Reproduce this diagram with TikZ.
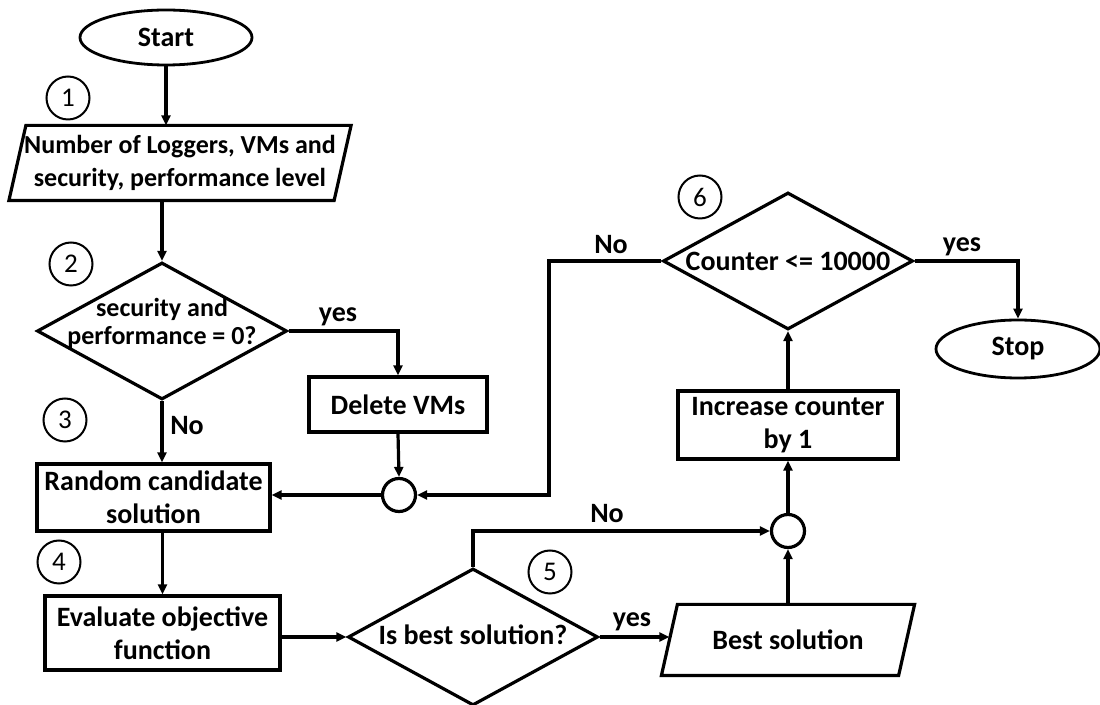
\documentclass[tikz,border=0pt]{standalone}
\usepackage{fontspec}
\setmainfont{Carlito}
\usetikzlibrary{shapes.geometric,arrows.meta,calc}
\begin{document}
\begin{tikzpicture}[x=0.5pt,y=-0.5pt,
  line width=1.6pt,
  font=\fontsize{14}{16.5}\selectfont\bfseries,
  >={Triangle[length=5pt,width=4.5pt]},
  proc/.style={draw, rectangle, align=center, inner sep=0pt},
  io/.style={rectangle, align=center, inner sep=0pt},
  decision/.style={draw, diamond, minimum width=125pt, minimum height=68.5pt, inner sep=0pt},
  dtext/.style={align=center, font=\fontsize{14}{14}\selectfont\bfseries, inner sep=0pt},
  terminal/.style={draw, ellipse, inner sep=0pt, line width=1.4pt},
  junction/.style={draw, circle, minimum size=16.5pt, inner sep=0pt},
  stepnum/.style={draw, circle, minimum size=21.5pt, inner sep=0pt, line width=1pt, font=\fontsize{13.5}{14}\selectfont},
  lbl/.style={inner sep=0pt}
]
\useasboundingbox (0,0) rectangle (1100,705);

% terminals
\node[terminal, minimum width=86pt, minimum height=27.5pt] (start) at (166,37.5) {Start};
\node[terminal, minimum width=82pt, minimum height=29pt] (stop) at (1018,349) {Stop};

% input parallelogram
\node[io, minimum width=161pt, minimum height=36pt, font=\fontsize{13}{16.5}\selectfont\bfseries] (inp) at (180,163) {Number of Loggers, VMs and\\security, performance level};
\draw ($(inp.north west)+(8.5,0)$) -- ($(inp.north east)+(8.5,0)$) -- ($(inp.south east)+(-8.5,0)$) -- ($(inp.south west)+(-8.5,0)$) -- cycle;

% first decision
\node[decision] (chk) at (162,331) {};
\node[dtext, font=\fontsize{13}{14}\selectfont\bfseries] (chkt) at (162,323) {security and\\performance = 0?};

% process boxes
\node[proc, minimum width=89pt, minimum height=27.5pt] (delv) at (398,404.5) {Delete VMs};
\node[proc, minimum width=116.5pt, minimum height=33.5pt] (rand) at (153.5,497.5) {Random candidate\\solution};
\node[proc, minimum width=117.5pt, minimum height=37pt] (eval) at (162.5,633) {Evaluate objective\\function};
\node[proc, minimum width=110pt, minimum height=34pt] (inc) at (788,425) {Increase counter\\by 1};

% junctions
\node[junction] (j1) at (399,495) {};
\node[junction] (j2) at (788,531) {};

% best-solution decision and output
\node[decision] (best) at (473,637) {};
\node[dtext] (bestt) at (473,635) {Is best solution?};
\node[io, minimum width=117pt, minimum height=34pt] (bsol) at (788,640) {Best solution};
\draw ($(bsol.north west)+(8,0)$) -- ($(bsol.north east)+(8,0)$) -- ($(bsol.south east)+(-8,0)$) -- ($(bsol.south west)+(-8,0)$) -- cycle;

% loop decision
\node[decision] (cnt) at (788,261) {};
\node[dtext] (cntt) at (788,261) {Counter <= 10000};

% step numbers
\node[stepnum] (n1) at (68,98) {1};
\node[stepnum] (n2) at (71,264) {2};
\node[stepnum] (n3) at (65,420) {3};
\node[stepnum] (n4) at (59,562) {4};
\node[stepnum] (n5) at (550,572) {5};
\node[stepnum] (n6) at (700,197) {6};

% connectors
\coordinate (loopx) at (549,0);
\draw[->] (start.south) -- (start.south |- inp.north);
\draw[->] (chk.north |- inp.south) -- (chk.north);
\draw[->] (chk.east) -| (delv.north);
\draw[->] (chk.south) -- (chk.south |- rand.north);
\draw[->] (delv.south) -- (j1.north);
\draw[->] (j1.west) -- (j1.west -| rand.east);
\draw[->] (cnt.west) -| (loopx |- j1) -- (j1.east);
\draw[->] (eval.north |- rand.south) -- (eval.north);
\draw[->] (best.west -| eval.east) -- (best.west);
\draw[->] (best.north) |- (j2.west);
\draw[->] (best.east) -- (best.east -| bsol.west);
\draw[->] (bsol.north) -- (j2.south);
\draw[->] (j2.north) -- (inc.south);
\draw[->] (inc.north) -- (cnt.south);
\draw[->] (cnt.east) -| (stop.north);

% branch labels
\node[lbl] at (338,317) {yes};
\node[lbl] at (187,426) {No};
\node[lbl] at (611,245) {No};
\node[lbl] at (962,247) {yes};
\node[lbl] at (607,514) {No};
\node[lbl] at (632,622) {yes};
\end{tikzpicture}
\end{document}
